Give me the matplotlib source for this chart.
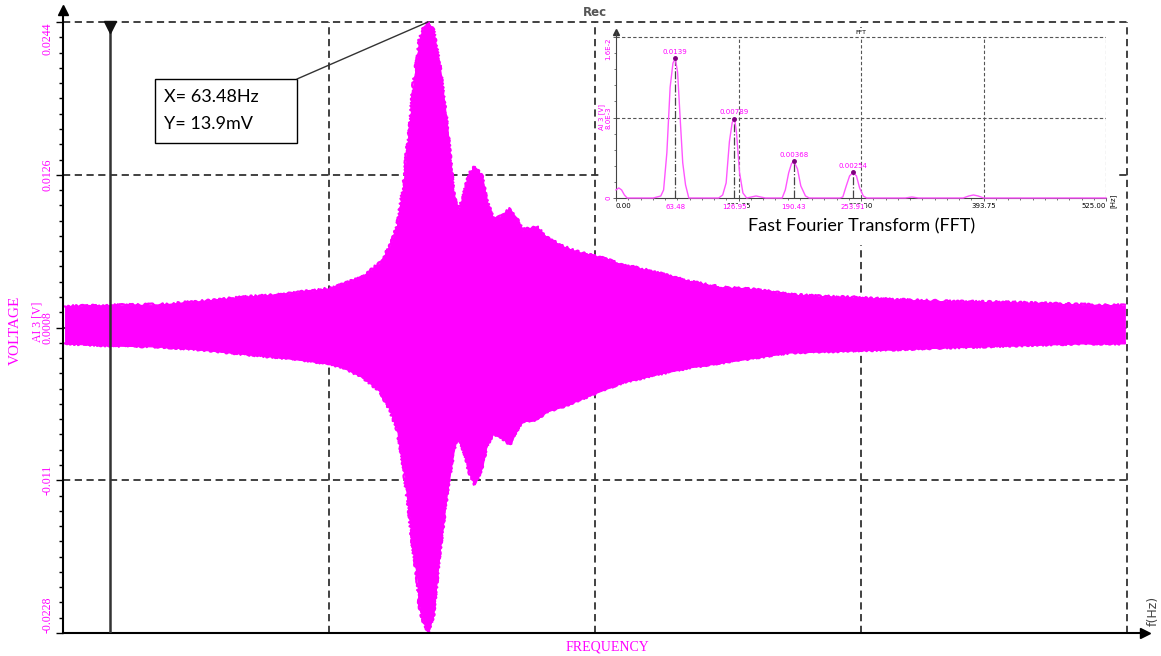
import numpy as np
import matplotlib.pyplot as plt
import matplotlib.transforms as mtransforms
from matplotlib.ticker import AutoMinorLocator
from matplotlib.patches import Rectangle, ConnectionPatch

# recorded signal envelope (sample position, upper / lower amplitude in V)
sig_x = [2, 44, 91, 129, 166, 204, 251, 267, 282, 298,
         307, 314, 317, 320, 323, 326, 329, 333, 335, 338,
         343, 348, 354, 361, 367, 371, 376, 382, 387, 394,
         398, 404, 411, 420, 427, 432, 445, 455, 470, 486,
         502, 526, 558, 589, 620, 652, 683, 714, 746, 777,
         831, 893, 956, 998]
sig_top = [0.00242, 0.00250, 0.00257, 0.00281, 0.00311, 0.00334, 0.00381, 0.00427, 0.00473, 0.00581,
           0.00705, 0.00859, 0.01013, 0.01167, 0.01430, 0.01630, 0.01939, 0.02170, 0.02301, 0.02378,
           0.02440, 0.02378, 0.02108, 0.01646, 0.01121, 0.00967, 0.01090, 0.01275, 0.01322, 0.01245,
           0.01067, 0.00928, 0.00936, 0.00998, 0.00913, 0.00836, 0.00859, 0.00774, 0.00705, 0.00658,
           0.00628, 0.00566, 0.00504, 0.00435, 0.00388, 0.00373, 0.00334, 0.00319, 0.00311, 0.00296,
           0.00281, 0.00273, 0.00257, 0.00250]
sig_bot = [-0.00043, -0.00059, -0.00067, -0.00090, -0.00121, -0.00151, -0.00198, -0.00244, -0.00306, -0.00414,
           -0.00552, -0.00707, -0.00838, -0.00992, -0.01192, -0.01401, -0.01632, -0.01863, -0.02072, -0.02172,
           -0.02272, -0.02149, -0.01655, -0.01192, -0.00884, -0.00745, -0.00861, -0.01038, -0.01131, -0.01000,
           -0.00838, -0.00745, -0.00761, -0.00822, -0.00707, -0.00645, -0.00630, -0.00568, -0.00529, -0.00475,
           -0.00421, -0.00344, -0.00282, -0.00228, -0.00190, -0.00151, -0.00113, -0.00105, -0.00097, -0.00090,
           -0.00074, -0.00059, -0.00043, -0.00043]

y_ticks = [-0.0228, -0.011, 0.0008, 0.0126, 0.0244]
y_labels = ["-0.0228", "-0.011", "0.0008", "0.0126", "0.0244"]
x_grid = [250, 500, 750, 1000]
cursor_x = 44

# FFT spectrum
fft_f = [0, 3, 6, 9, 12, 40, 48, 51, 54.5, 58, 61, 63.48, 66, 69, 71.5, 74.5, 78,
         110, 114.3, 118, 121.5, 124.5, 126.95, 129, 132.4, 136, 140,
         145, 150, 155, 160, 178, 181.4, 185, 188, 190.43, 194.4, 198, 203, 207,
         240, 243, 246.7, 250.3, 253.91, 257.6, 261, 265, 268.5,
         310, 317, 324, 372, 378, 383, 388, 394, 525]
fft_a = [0.0008, 0.001, 0.0008, 0.0003, 0.0, 0.0, 0.0002, 0.0008, 0.0045, 0.011, 0.0134, 0.0139, 0.0125, 0.0075, 0.0035, 0.0013, 0.0,
         0.0, 0.0003, 0.0015, 0.0056, 0.0075, 0.0079, 0.0066, 0.0025, 0.0005, 0.0,
         0.0001, 0.0002, 0.0001, 0.0, 0.0, 0.0008, 0.0025, 0.0034, 0.00368, 0.0029, 0.0012, 0.0002, 0.0,
         0.0, 0.0001, 0.0012, 0.0022, 0.00254, 0.0022, 0.001, 0.0002, 0.0,
         0.0, 0.0001, 0.0, 0.0, 0.0002, 0.0003, 0.0002, 0.0, 0.0]
peak_f = [63.48, 126.95, 190.43, 253.91]
peak_a = [0.0139, 0.00789, 0.00368, 0.00254]
peak_lbl = ["0.0139", "0.00789", "0.00368", "0.00254"]
fft_ticks = [0, 131.25, 262.5, 393.75, 525]
fft_tick_lbl = ["0.00", "131.25", "262.50", "393.75", "525.00"]
fft_yticks = [0, 0.008, 0.016]
fft_ylbl = ["0", "8.0E-3", "1.6E-2"]

MAG = "#ff00ff"
SERIF = "Liberation Serif"
W, H = 1161, 656


def fx(px):
    return px / W


def fy(py):
    return 1 - py / H


fig = plt.figure(figsize=(W / 100, H / 100), dpi=100)

# ---- main recording ----
ax = fig.add_axes([fx(63), fy(633), (1145 - 63) / W, (633 - 10) / H])
ax.set_xlim(0, 1017)
ax.set_ylim(-0.0228, 0.02533)

dash = (0, (4, 2.5))
ax.hlines(y_ticks[1:], 0, x_grid[-1], colors="#333333", lw=1.3, linestyles=[dash], zorder=1)
ax.vlines(x_grid, y_ticks[0], y_ticks[-1], colors="#333333", lw=1.3, linestyles=[dash], zorder=1)

ax.fill_between(sig_x, sig_bot, sig_top, color=MAG, lw=0.8, zorder=2)
# ragged outline, like the edge of the dense trace
for env in (sig_top, sig_bot):
    edge, = ax.plot(sig_x, env, color=MAG, lw=1.6, zorder=2)
    edge.set_sketch_params(scale=1.2, length=4, randomness=6)

# cursor
ax.vlines(cursor_x, y_ticks[0], y_ticks[-1], colors="#333333", lw=1.8, zorder=3)
down = ax.transData + mtransforms.ScaledTranslation(0, -3.5 / 72, fig.dpi_scale_trans)
ax.plot(cursor_x, y_ticks[-1], marker="v", ms=9, color="#111111", transform=down, zorder=4)

for s in ["top", "right"]:
    ax.spines[s].set_visible(False)
for s in ["left", "bottom"]:
    ax.spines[s].set_linewidth(1.5)
ax.plot(1, 0, ">", color="k", ms=7, transform=ax.transAxes, clip_on=False)
ax.plot(0, 1, "^", color="k", ms=7, transform=ax.transAxes, clip_on=False)

ax.set_xticks([])
ax.set_yticks(y_ticks)
ax.set_yticklabels(y_labels, rotation=90, va="center", family=SERIF, color=MAG, fontsize=8.5)
ylabs = ax.get_yticklabels()
ylabs[0].set_va("bottom")
ylabs[-1].set_va("top")
ax.yaxis.set_minor_locator(AutoMinorLocator(10))
ax.tick_params(axis="y", which="major", length=5, width=1, pad=1.5)
ax.tick_params(axis="y", which="minor", length=3, width=1)

fig.text(fx(15), fy(330), "VOLTAGE", rotation=90, ha="center", va="center", family=SERIF, color=MAG, fontsize=11)
fig.text(fx(37), fy(322), "AI 3 [V]", rotation=90, ha="center", va="center", family=SERIF, color=MAG, fontsize=8.5)
fig.text(fx(607), fy(647), "FREQUENCY", ha="center", va="center", family=SERIF, color=MAG, fontsize=10)
fig.text(fx(1153), fy(611), "f(Hz)", rotation=90, ha="center", va="center", color="#444444", fontsize=9)
fig.text(fx(595), fy(13), "Rec", ha="center", va="center", color="#555555", fontsize=8.5, weight="bold")

# cursor readout box
fig.add_artist(Rectangle((fx(155), fy(143)), 142 / W, 64 / H, transform=fig.transFigure,
                         facecolor="white", edgecolor="black", lw=1, zorder=3))
fig.text(fx(164), fy(97), "X= 63.48Hz", ha="left", va="center", family="Lato", fontsize=13, zorder=4)
fig.text(fx(164), fy(124), "Y= 13.9mV", ha="left", va="center", family="Lato", fontsize=13, zorder=4)
ipk = int(np.argmax(sig_top))
fig.add_artist(ConnectionPatch(xyA=(fx(297), fy(79)), coordsA=fig.transFigure,
                               xyB=(sig_x[ipk], sig_top[ipk]), coordsB=ax.transData,
                               color="#333333", lw=1, zorder=3))

# ---- FFT inset ----
fig.add_artist(Rectangle((fx(600), fy(245)), (1118 - 600) / W, (245 - 28) / H, transform=fig.transFigure,
                         facecolor="white", edgecolor="none", zorder=1))
ix = fig.add_axes([fx(616), fy(198), 490 / W, (198 - 32) / H])
ix.set_zorder(2)
ix.set_xlim(0, 525)
ix.set_ylim(0, 0.0165)
for s in ["top", "right"]:
    ix.spines[s].set_visible(False)
for s in ["left", "bottom"]:
    ix.spines[s].set_color("#444444")
    ix.spines[s].set_linewidth(0.8)
ix.plot(0, 1, "^", color="#333333", ms=4, transform=ix.transAxes, clip_on=False)

idash = (0, (3, 2))
ix.vlines(fft_ticks[1:], 0, fft_yticks[-1], colors="#555555", lw=0.8, linestyles=[idash], zorder=1)
ix.hlines(fft_yticks[1:], 0, fft_ticks[-1], colors="#555555", lw=0.8, linestyles=[idash], zorder=1)

ix.vlines(peak_f, 0, peak_a, colors="#444444", lw=0.9, linestyles="-.", zorder=2)
ix.plot(fft_f, fft_a, color="#ff55ff", lw=1.0, zorder=3, clip_on=False)
ix.plot(peak_f, peak_a, "o", ms=2.5, color="#800080", zorder=4)
for f, a, lbl in zip(peak_f, peak_a, peak_lbl):
    ix.annotate(lbl, (f, a), xytext=(0, 2.5), textcoords="offset points", ha="center", va="bottom",
                fontsize=5, color=MAG, zorder=5)
    ix.annotate(f"{f:.2f}", (f, 0), xytext=(0, -4.5), textcoords="offset points", ha="center", va="top",
                fontsize=5, color=MAG, zorder=5, annotation_clip=False,
                bbox=dict(facecolor="white", edgecolor="none", pad=0.2))

ix.set_xticks(fft_ticks)
ix.set_xticklabels(fft_tick_lbl, fontsize=5)
xlabs = ix.get_xticklabels()
xlabs[0].set_ha("left")
xlabs[-1].set_ha("right")
ix.xaxis.set_minor_locator(AutoMinorLocator(10))
ix.set_yticks(fft_yticks)
ix.set_yticklabels(fft_ylbl, rotation=90, va="center", fontsize=5, color=MAG)
ix.get_yticklabels()[-1].set_va("top")
ix.yaxis.set_minor_locator(AutoMinorLocator(5))
ix.tick_params(which="major", length=2, width=0.6, color="#444444", pad=1.5)
ix.tick_params(which="minor", length=1.2, width=0.5, color="#444444")

fig.text(fx(602), fy(117), "AI 3 [V]", rotation=90, ha="center", va="center", fontsize=5, color=MAG)
fig.text(fx(861), fy(32), "FFT", ha="center", va="center", fontsize=4.5, zorder=4)
fig.text(fx(1113), fy(201), "[Hz]", rotation=90, ha="center", va="center", fontsize=5, zorder=4)
fig.text(fx(862), fy(226), "Fast Fourier Transform (FFT)", ha="center", va="center",
         family="Lato", fontsize=13, zorder=4)

fig.savefig("out.png", dpi=100)
